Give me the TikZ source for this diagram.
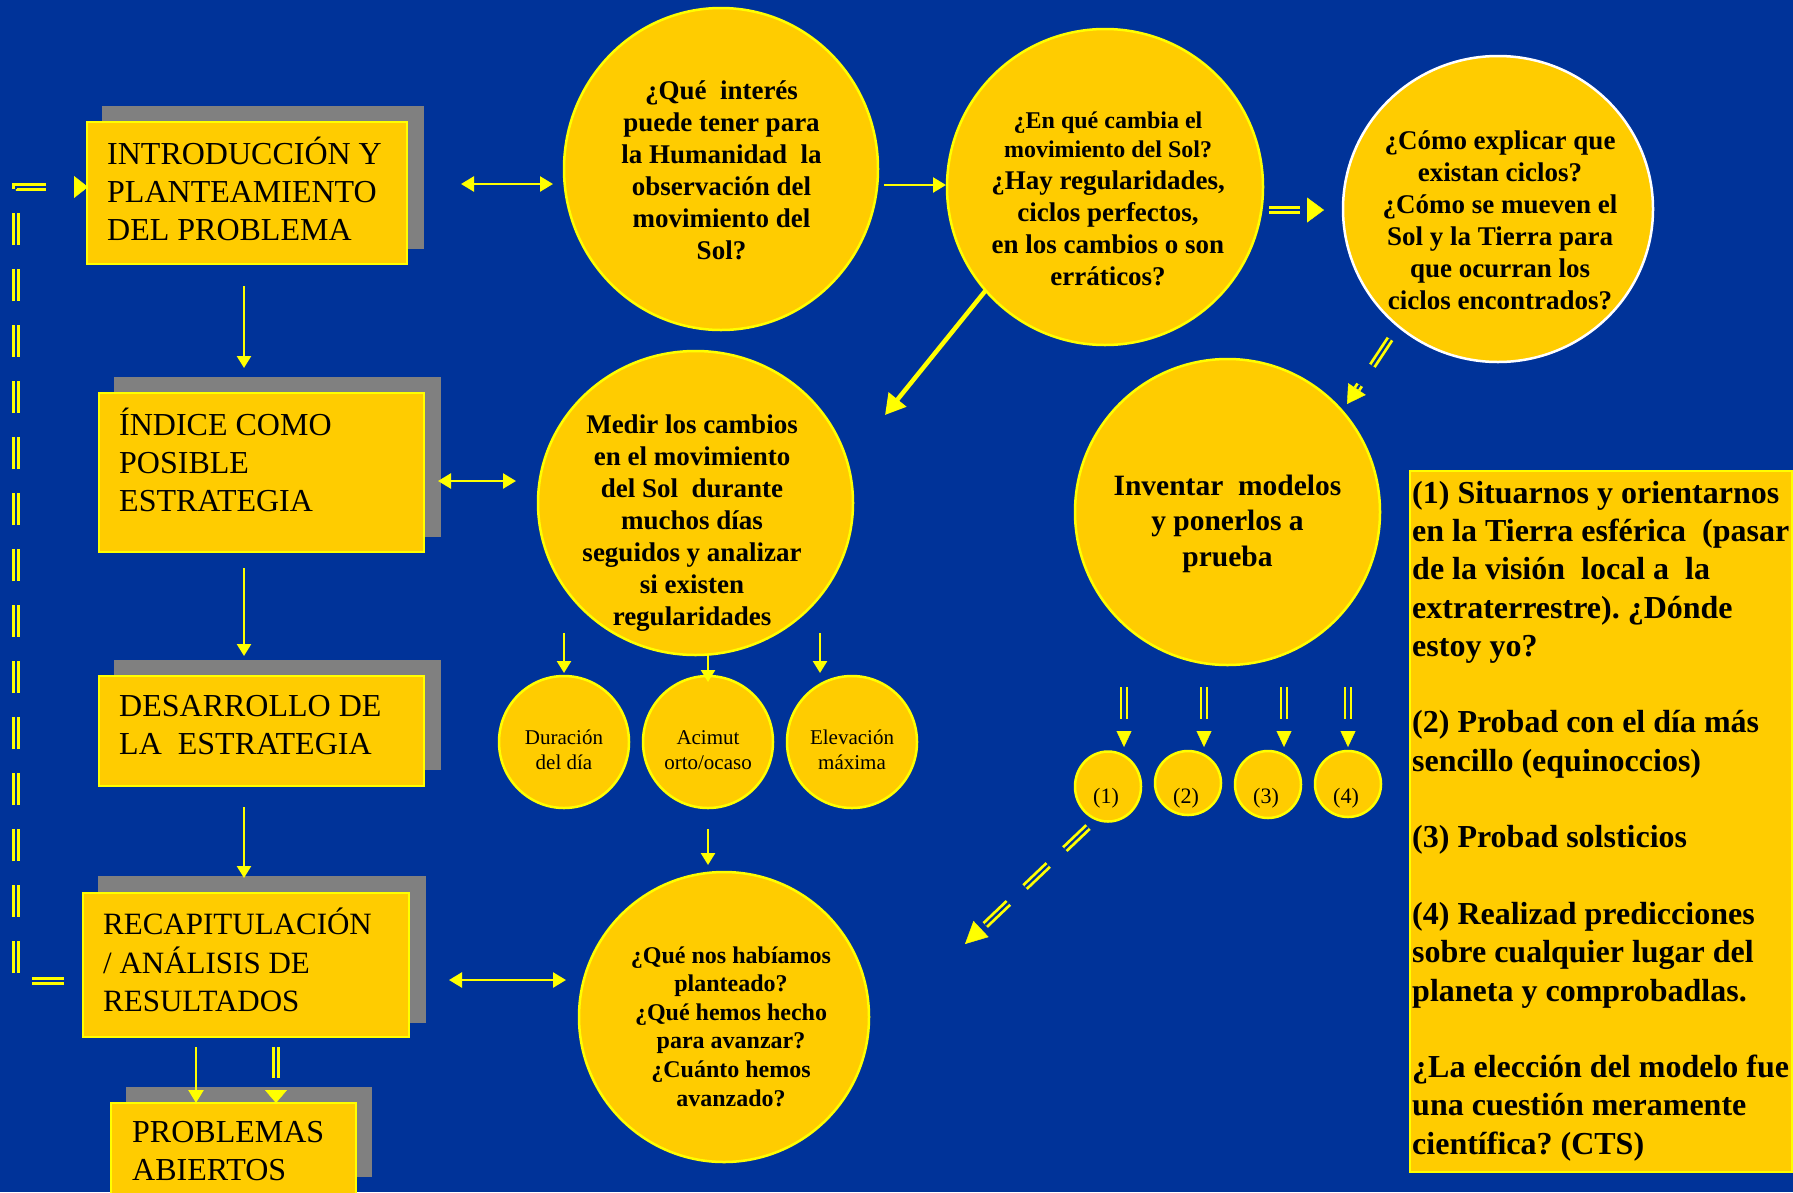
\documentclass[tikz,border=0pt]{standalone}
\usepackage{fontspec}
\setmainfont{Liberation Serif}
\usetikzlibrary{arrows.meta,shapes.geometric}
\definecolor{bg}{HTML}{003399}
\definecolor{yel}{HTML}{FFCC00}
\definecolor{yl}{HTML}{FFFF00}
\definecolor{shd}{HTML}{808080}
\frenchspacing
\begin{document}
\begin{tikzpicture}[x=1pt,y=-1pt,
  ybox/.style={rectangle, fill=yel, draw=yl, line width=2.5pt, inner sep=0pt, outer sep=0pt},
  bubble/.style={ellipse, fill=yel, draw=yl, line width=2.5pt, inner sep=0pt, outer sep=0pt},
  btext/.style={anchor=west, align=left, inner sep=0pt, font=\fontsize{32}{38.4}\selectfont},
  qtext/.style={align=center, inner sep=0pt, font=\bfseries\fontsize{27}{32}\selectfont},
  stext/.style={align=center, inner sep=0pt, font=\fontsize{21}{25.5}\selectfont},
  ntext/.style={inner sep=0pt, font=\fontsize{22}{26}\selectfont},
  arr/.style={draw=yl, line width=2.5pt, -{Triangle[length=12pt,width=14pt]}},
  biarr/.style={draw=yl, line width=2.5pt, {Triangle[length=13pt,width=15pt]}-{Triangle[length=13pt,width=15pt]}},
  fatarr/.style={draw=yl, line width=4.5pt, -{Triangle[length=20pt,width=22pt]}},
  dbl/.style={draw=yl, line width=2.8pt, double=bg, double distance=2.2pt},
  thindbl/.style={draw=yl, line width=2.2pt, double=bg, double distance=3.5pt},
  dsh/.style={dash pattern=on 32pt off 24pt},
  tipl/.style={draw=yl, line width=0.4pt}
]
\useasboundingbox (0,0) rectangle (1793,1192);
\clip (0,0) rectangle (1793,1192);
\fill[bg] (0,0) rectangle (1793,1192);

% ---------- shadows ----------
\fill[shd] (102,106) rectangle (424,249);
\fill[shd] (114,377) rectangle (441,537);
\fill[shd] (114,660) rectangle (441,770);
\fill[shd] (98,876) rectangle (426,1023);
\fill[shd] (126,1087) rectangle (372,1177);

% ---------- left boxes ----------
\node[ybox, minimum width=320pt, minimum height=142pt] (intro) at (247,193) {};
\node[ybox, minimum width=325pt, minimum height=159pt] (indice) at (261.5,472.5) {};
\node[ybox, minimum width=325pt, minimum height=110pt] (desarrollo) at (261.5,731) {};
\node[ybox, minimum width=326pt, minimum height=144pt] (recap) at (246,965) {};
\node[ybox, minimum width=245pt, minimum height=120pt] (problemas) at (233.5,1163) {};

\node[btext] (introT) at (107,189) {INTRODUCCIÓN Y\\PLANTEAMIENTO\\DEL PROBLEMA};
\node[btext] (indiceT) at (119,460) {ÍNDICE COMO\\POSIBLE\\ESTRATEGIA};
\node[btext] (desT) at (119,725) {DESARROLLO DE\\LA\ \ ESTRATEGIA};
\node[btext, font=\fontsize{31}{38.5}\selectfont] (recapT) at (103,960) {RECAPITULACIÓN\\/ ANÁLISIS DE\\RESULTADOS};
\node[btext] (probT) at (132,1151) {PROBLEMAS\\ABIERTOS};

% ---------- circles ----------
\node[bubble, minimum width=314pt, minimum height=322pt] (q1) at (721,169) {};
\node[bubble, minimum width=316pt, minimum height=316pt] (q2) at (1105,187) {};
\node[bubble, draw=white, minimum width=310pt, minimum height=306pt] (q3) at (1498,209) {};
\node[bubble, minimum width=315pt, minimum height=304pt] (medir) at (695.5,503) {};
\node[bubble, minimum width=305pt, minimum height=306pt] (inventar) at (1227.5,512) {};
\node[bubble, minimum width=290pt, minimum height=290pt] (final) at (724,1017) {};

\node[bubble, minimum width=130pt, minimum height=132pt] (dur) at (564,742) {};
\node[bubble, minimum width=130pt, minimum height=132pt] (aci) at (708,742) {};
\node[bubble, minimum width=130pt, minimum height=132pt] (ele) at (852,742) {};

\node[bubble, minimum width=66pt, minimum height=70pt] (n1) at (1108,786.5) {};
\node[bubble, minimum width=66pt, minimum height=64pt] (n2) at (1188,783) {};
\node[bubble, minimum width=66pt, minimum height=67pt] (n3) at (1268,784.5) {};
\node[bubble, minimum width=66pt, minimum height=66pt] (n4) at (1348,784) {};

% ---------- circle texts ----------
\node[qtext] (q1T) at (721.5,170) {¿Qué\ \ interés\\puede tener para\\la Humanidad\ \ la\\observación del\\movimiento del\\Sol?};
\node[qtext, font=\bfseries\fontsize{24}{29}\selectfont] (q2Ta) at (1108,134.5) {¿En qué cambia el\\movimiento del Sol?};
\node[qtext] (q2Tb) at (1108,228) {¿Hay regularidades,\\ciclos perfectos,\\en los cambios o son\\erráticos?};
\node[qtext] (q3T) at (1500,220) {¿Cómo explicar que\\existan ciclos?\\¿Cómo se mueven el\\Sol y la Tierra para\\que ocurran los\\ciclos encontrados?};
\node[qtext] (medirT) at (692,523) {Medir los cambios\\en el movimiento\\del Sol\ \ durante\\muchos días\\seguidos y analizar\\si existen\\regularidades};
\node[qtext, font=\bfseries\fontsize{29.5}{35.5}\selectfont] (invT) at (1227.5,523.5) {Inventar\ \ modelos\\y ponerlos a\\prueba};
\node[qtext, font=\bfseries\fontsize{24}{28.6}\selectfont] (finalT) at (731,1026.5) {¿Qué nos habíamos\\planteado?\\¿Qué hemos hecho\\para avanzar?\\¿Cuánto hemos\\avanzado?};

\node[stext] (durT) at (564,750) {Duración\\del día};
\node[stext] (aciT) at (708,750) {Acimut\\orto/ocaso};
\node[stext] (eleT) at (852,750) {Elevación\\máxima};

\node[ntext] (n1T) at (1106,798) {(1)};
\node[ntext] (n2T) at (1186,798) {(2)};
\node[ntext] (n3T) at (1266,798) {(3)};
\node[ntext] (n4T) at (1346,798) {(4)};

% ---------- right notes box ----------
\node[rectangle, fill=yel, draw=yl, line width=1.5pt, inner sep=0pt, minimum width=382pt, minimum height=701pt] (notes) at (1601,821.5) {};
\node[anchor=west, align=left, inner sep=0pt, font=\bfseries\fontsize{32}{38.3}\selectfont] (notesT) at (1412,821) {(1) Situarnos y orientarnos\\en la Tierra esférica\ \ (pasar\\de la visión\ \ local a\ \ la\\extraterrestre). ¿Dónde\\estoy yo?\\[38.3pt](2) Probad con el día más\\sencillo (equinoccios)\\[38.3pt](3) Probad solsticios\\[38.3pt](4) Realizad predicciones\\sobre cualquier lugar del\\planeta y comprobadlas.\\[38.3pt]¿La elección del modelo fue\\una cuestión meramente\\científica? (CTS)};

% ---------- connectors ----------
% left chain
\coordinate (a1) at (244,286); \coordinate (a2) at (244,368);
\draw[arr] (a1) -- (a2);
\coordinate (b1) at (244,568); \coordinate (b2) at (244,656);
\draw[arr] (b1) -- (b2);
\coordinate (c1) at (244,807); \coordinate (c2) at (244,878);
\draw[arr] (c1) -- (c2);
\coordinate (d1) at (196,1047); \coordinate (d2) at (196,1103);
\draw[arr, -{Triangle[length=13pt,width=15pt]}] (d1) -- (d2);
\coordinate (e1) at (276,1047); \coordinate (e2) at (276,1078);
\coordinate (e3) at (276,1090); \coordinate (e4) at (276,1103);
\draw[dbl] (e1) -- (e2);
\draw[tipl, -{Triangle[length=13pt,width=22pt]}] (e3) -- (e4);

% bidirectional
\coordinate (f1) at (461,184); \coordinate (f2) at (553,184);
\draw[biarr] (f1) -- (f2);
\coordinate (g1) at (438,481); \coordinate (g2) at (516,481);
\draw[biarr] (g1) -- (g2);
\coordinate (h1) at (449,980); \coordinate (h2) at (566,980);
\draw[biarr] (h1) -- (h2);

% top row
\coordinate (k1) at (884,185); \coordinate (k2) at (946,185);
\draw[arr, -{Triangle[length=13pt,width=15pt]}] (k1) -- (k2);
\coordinate (l1) at (1269,210); \coordinate (l2) at (1300,210);
\coordinate (l3) at (1307,210); \coordinate (l4) at (1324,210);
\draw[dbl] (l1) -- (l2);
\draw[tipl, -{Triangle[length=17pt,width=25pt]}] (l3) -- (l4);
\coordinate (m1) at (986,290); \coordinate (m2) at (885,415);
\draw[fatarr] (m1) -- (m2);

% q3 to inventar (dashed double)
\coordinate (p1) at (1390,339); \coordinate (p2) at (1357,389);
\coordinate (p3) at (1347,404);
\draw[dbl, dash pattern=on 32pt off 23pt] (p1) -- (p2);
\draw[tipl, -{Triangle[length=18pt,width=21pt]}] (p2) -- (p3);

% medir to small circles
\coordinate (r1) at (564,633); \coordinate (r2) at (564,673);
\draw[arr] (r1) -- (r2);
\coordinate (s1) at (708,655); \coordinate (s2) at (708,682);
\draw[arr] (s1) -- (s2);
\coordinate (t1) at (820,633); \coordinate (t2) at (820,673);
\draw[arr] (t1) -- (t2);
\coordinate (u1) at (708,829); \coordinate (u2) at (708,865);
\draw[arr] (u1) -- (u2);

% inventar to numbered circles
\foreach \x/\n in {1124/1,1204/2,1284/3,1348/4}{
  \coordinate (v\n a) at (\x,687); \coordinate (v\n b) at (\x,719);
  \coordinate (v\n c) at (\x,731); \coordinate (v\n d) at (\x,747);
  \draw[thindbl] (v\n a) -- (v\n b);
  \draw[tipl, -{Triangle[length=16pt,width=15pt]}] (v\n c) -- (v\n d);
}

% from (1) down-left (dashed double)
\coordinate (w1) at (1088,827); \coordinate (w2) at (981,929);
\coordinate (w3) at (965,944);
\draw[dbl, dash pattern=on 32pt off 23pt] (w1) -- (w2);
\draw[tipl, -{Triangle[length=22pt,width=22pt]}] (w2) -- (w3);

% feedback loop on the left
\coordinate (z1) at (64,981); \coordinate (z2) at (16,981);
\coordinate (z3) at (16,187); \coordinate (z4) at (60,187);
\coordinate (z5) at (74,187); \coordinate (z6) at (88,187);
\draw[dbl, dsh] (z1) -- (z2) -- (z3) -- (z4);
\draw[tipl, -{Triangle[length=14pt,width=22pt]}] (z5) -- (z6);
\end{tikzpicture}
\end{document}
